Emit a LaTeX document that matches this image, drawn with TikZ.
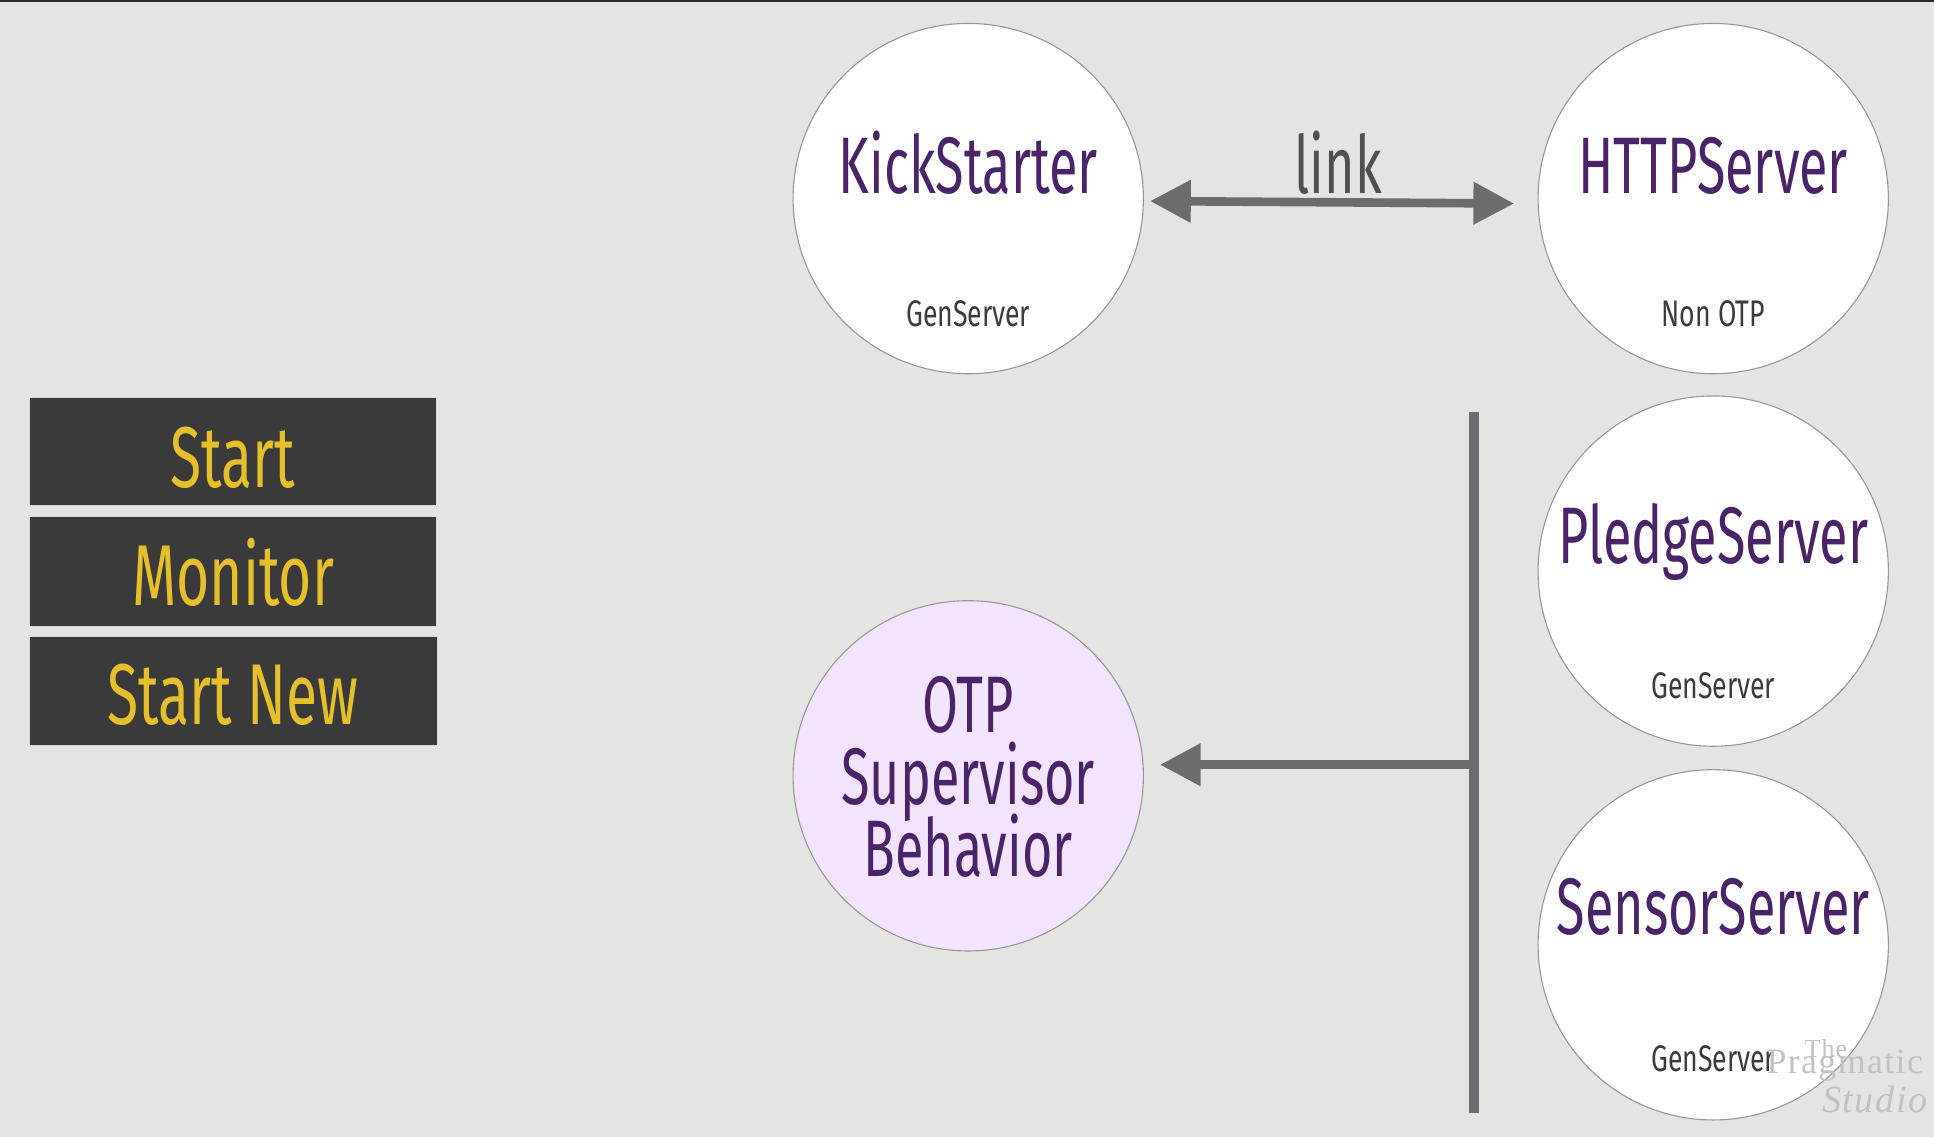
\documentclass[tikz,border=0pt]{standalone}
\usepackage{fontspec}
\setmainfont{Fira Sans}
\newfontfamily\cond[FakeStretch=0.65]{Fira Sans}
\newfontfamily\condbox[FakeStretch=0.66]{Fira Sans}
\newfontfamily\condsmall[FakeStretch=0.72]{Fira Sans}
\newfontfamily\wmark[LetterSpace=4]{Liberation Serif}
\usetikzlibrary{arrows.meta}
\definecolor{bg}{HTML}{E4E4E2}
\definecolor{topline}{HTML}{2A2A2A}
\definecolor{procpurple}{HTML}{4A2468}
\definecolor{subgray}{HTML}{3C3C3C}
\definecolor{arrowgray}{HTML}{6A6C6E}
\definecolor{boxfill}{HTML}{3A3A3A}
\definecolor{boxtext}{HTML}{E6C02C}
\definecolor{lavender}{HTML}{F1E4FC}
\definecolor{ringgray}{HTML}{989898}
\definecolor{wmgray}{HTML}{C2C2C2}
\tikzset{
  proc/.style={circle, minimum size=284pt, inner sep=0pt, draw=ringgray, line width=0.9pt, fill=white},
  title/.style={anchor=base, text=procpurple, font=\cond\fontsize{65}{65}\selectfont, inner sep=0pt, text height=46pt, text depth=9pt},
  sub/.style={anchor=base, text=subgray, font=\condsmall\fontsize{30}{30}\selectfont, inner sep=0pt},
  opbox/.style={draw=white!85!black, line width=0.8pt, fill=boxfill, inner sep=0pt},
  optext/.style={anchor=base, text=boxtext, font=\condbox\fontsize{70}{70}\selectfont, inner sep=0pt},
  conn/.style={draw=arrowgray, line width=7pt},
  tip/.style={-{Triangle[length=33pt,width=33pt]}},
  wm/.style={anchor=base west, text=wmgray, inner sep=0pt, text depth=0pt},
}
\begin{document}
\begin{tikzpicture}[x=1pt,y=-1pt]
\useasboundingbox (0,0) rectangle (1568,922);
\fill[bg] (0,0) rectangle (1568,922);
\fill[topline] (0,0) rectangle (1568,2);

% process circles
\node[proc] (ks) at (785,161) {};
\node[proc] (http) at (1389,161) {};
\node[proc] (pledge) at (1389,463) {};
\node[proc] (sensor) at (1389,766) {};
\node[proc, fill=lavender] (otp) at (785,629) {};

% labels
\node[title] (kst) at (785,157) {KickStarter};
\node[sub] (kss) at (785,265) {GenServer};
\node[title] (httpt) at (1389,157) {HTTPServer};
\node[sub] (https) at (1389,265) {Non OTP};
\node[title] (pledget) at (1389,457) {PledgeServer};
\node[sub] (pledges) at (1389,566) {GenServer};
\node[title] (sensort) at (1389,758) {SensorServer};
\node[sub] (sensors) at (1389,869) {GenServer};
\node[title] (otp1) at (785,594) {OTP};
\node[title] (otp2) at (785,652) {Supervisor};
\node[title] (otp3) at (785,711) {Behavior};

% link arrow
\draw[conn, {Triangle[length=33pt,width=33pt]}-{Triangle[length=33pt,width=33pt]}]
  ([xshift=5pt,yshift=-2pt]ks.east) -- ([xshift=-19pt,yshift=-4pt]http.west);
\node[title, text=subgray!90!white] (link) at (1085,157) {link};

% supervision bar
\coordinate (bartop) at (1195,334);
\coordinate (barbot) at (1195,902);
\coordinate (barmid) at (1195,620);
\draw[draw=arrowgray, line width=8pt] (bartop) -- (barbot);
\draw[conn, tip] (barmid) -- ([xshift=13pt]otp.east |- barmid);

% operation boxes
\node[opbox, minimum width=330pt, minimum height=88pt] (b1) at (189,366) {};
\node[opbox, minimum width=330pt, minimum height=89pt] (b2) at (189,463.5) {};
\node[opbox, minimum width=331pt, minimum height=88pt] (b3) at (189.5,560) {};
\node[optext] (t1) at (189,395) {Start};
\node[optext] (t2) at (189,491) {Monitor};
\node[optext] (t3) at (189,587) {Start New};

% watermark
\begin{scope}
\clip (0,0) rectangle (1568,922);
\node[wm, font=\wmark\fontsize{21}{21}\selectfont, text height=14pt] (wm1) at (1463,857) {The};
\node[wm, font=\wmark\fontsize{29}{29}\selectfont, text height=15pt] (wm2) at (1432,870) {Pragmatic};
\node[wm, font=\wmark\itshape\fontsize{31}{31}\selectfont, text height=20pt] (wm3) at (1477,902) {Studio};
\end{scope}
\end{tikzpicture}
\end{document}
